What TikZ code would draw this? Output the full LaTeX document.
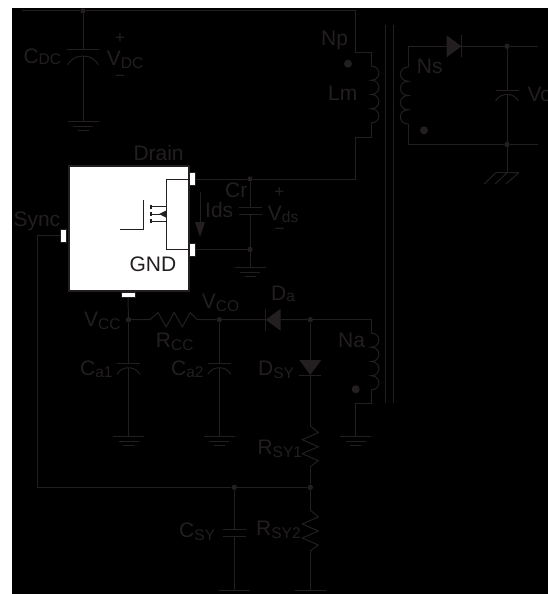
\documentclass[tikz,border=0pt]{standalone}
\usepackage{fontspec}
\setmainfont{Liberation Sans}
\definecolor{ink}{RGB}{35,31,32}
\newcommand{\lowtext}[2][3]{\raisebox{-#1pt}[0pt][0pt]{\fontsize{15.5}{15.5}\selectfont #2}}
\begin{document}
\begin{tikzpicture}[
        x=1pt, y=-1pt,
        wire/.style = {draw=ink, line width=1pt}, % Провода
        lbl/.style = {text=ink, font=\fontsize{21}{21}\selectfont, inner sep=0pt, anchor=base west}, % Подписи
        sign/.style = {text=ink, font=\fontsize{17}{17}\selectfont, inner sep=0pt},
        jct/.style = {circle, fill=ink, inner sep=0pt, minimum size=5.4pt}, % Узлы схемы
        phasedot/.style = {circle, fill=ink, inner sep=0pt, minimum size=8pt},
        pinbox/.style = {rectangle, draw=ink, fill=white, line width=.8pt, inner sep=0pt},
        gndsym/.pic = {
            \coordinate (-top) at (0,0);
            \draw[wire] (-15.5,0) -- (15.5,0) (-10,5.5) -- (10,5.5) (-5.5,9) -- (5.5,9);
        },
        flatcap/.pic = {
            \coordinate (-top) at (0,0);
            \coordinate (-bot) at (0,7);
            \draw[wire] (-11.5,0) -- (11.5,0) (-11.5,7) -- (11.5,7);
        },
        polarcap/.pic = {
            \coordinate (-top) at (0,0);
            \coordinate (-bot) at (0,4.5);
            \draw[wire] (-11.5,0) -- (11.5,0);
            \draw[wire] (-11.5,11) .. controls (-8,5.5) and (-4,4.5) .. (0,4.5) .. controls (4,4.5) and (8,5.5) .. (11.5,11);
        },
        coilsym/.pic = {
            \coordinate (-top) at (0,0);
            \coordinate (-bot) at (0,57);
            \draw[wire] (0,0) .. controls (10.5,0) and (10.5,14.25) .. (0,14.25)
                .. controls (10.5,14.25) and (10.5,28.5) .. (0,28.5)
                .. controls (10.5,28.5) and (10.5,42.75) .. (0,42.75)
                .. controls (10.5,42.75) and (10.5,57) .. (0,57);
        },
        zigres/.pic = {
            \coordinate (-a) at (0,0);
            \coordinate (-b) at (0,41);
            \draw[wire, line join=miter] (0,0) -- (8,7) -- (-8,14) -- (8,21) -- (-8,28) -- (8,35) -- (0,41);
        },
        diodesym/.pic = {
            \coordinate (-a) at (0,0);
            \coordinate (-k) at (0,15);
            \fill[ink] (-11,0) -- (11,0) -- (0,15) -- cycle;
            \draw[wire] (-11,15) -- (11,15);
        },
    ]

    \fill[white] (0,0) rectangle (548,594);
    \fill[black] (12,8) rectangle (548,594);
    \useasboundingbox (0,0) rectangle (548,594);

    % Микросхема
    \node[rectangle, draw=ink, fill=white, line width=2pt, minimum width=120pt, minimum height=125pt, inner sep=0pt] (chip) at (128.5,228) {};
    \node[pinbox, minimum width=6.5pt, minimum height=13pt] (pindrain) at (192.5,179) {};
    \node[pinbox, minimum width=6.5pt, minimum height=13pt] (pinsource) at (192.5,249.5) {};
    \node[pinbox, minimum width=6.5pt, minimum height=13pt] (pinsync) at (63.5,235.7) {};
    \node[pinbox, minimum width=14pt, minimum height=5pt] (pinvcc) at (128,295.3) {};
    \coordinate (fetd) at (166,179);
    \coordinate (fets) at (166,249.5);
    \draw[wire] (pindrain.west) -- (fetd) -- (fets) -- (pinsource.west);
    \draw[wire] (120,229) -- (143.5,229) -- (143.5,200);
    \draw[wire] (151,206.7) -- (166,206.7) (151,221) -- (166,221) (151,214) -- (160,214);
    \draw[wire, line width=1.4pt] (151,204.7) -- (151,208.7) (151,212) -- (151,216) (151,219) -- (151,223);
    \fill[ink] (159,214) -- (166,210.5) -- (166,217.5) -- cycle;

    % Входная часть
    \node[jct] (jdc) at (83,11) {};
    \coordinate (railleft) at (22,11);
    \coordinate (railright) at (355.7,11);
    \draw[wire] (railleft) -- (jdc) -- (railright);
    \pic[scale=1.35] (cdc) at (83,50) {polarcap};
    \pic (gdc) at (83,121) {gndsym};
    \draw[wire] (jdc) -- (cdc-top) (cdc-bot) -- (gdc-top);

    % Первичная обмотка
    \pic (lm) at (371,66) {coilsym};
    \coordinate (npa) at (355.7,53);
    \coordinate (npb) at (371,53);
    \coordinate (nmb) at (371,137);
    \coordinate (nmc) at (355.7,137);
    \coordinate (nmd) at (355.7,179);
    \draw[wire] (railright) -- (npa) -- (npb) -- (lm-top) (lm-bot) -- (nmb) -- (nmc) -- (nmd);
    \node[phasedot] (dotp) at (348,63.7) {};
    \node[jct] (jdrain) at (250,179) {};
    \node[jct] (jsource) at (250,249.5) {};
    \draw[wire] (pindrain.east) -- (jdrain) -- (nmd);
    \draw[wire] (pinsource.east) -- (jsource);
    \pic (cr) at (250,207) {flatcap};
    \pic (gr) at (250,267) {gndsym};
    \draw[wire] (jdrain) -- (cr-top) (cr-bot) -- (jsource) -- (gr-top);
    \coordinate (idsa) at (200,192);
    \coordinate (idsb) at (200,224);
    \draw[wire] (idsa) -- (idsb);
    \fill[ink] (195,222) -- (205,222) -- (200,237) -- cycle;

    % Сердечник
    \coordinate (corea) at (385.7,25);
    \coordinate (coreb) at (385.7,403);
    \coordinate (corec) at (393.3,25);
    \coordinate (cored) at (393.3,403);
    \draw[wire] (corea) -- (coreb) (corec) -- (cored);

    % Вторичная обмотка
    \pic[xscale=-1] (ns) at (408.3,67) {coilsym};
    \coordinate (nsa) at (408.3,46.3);
    \coordinate (nsb) at (408.3,144.5);
    \coordinate (outa) at (537.7,46.3);
    \coordinate (outb) at (537.7,144.5);
    \pic[rotate=90] (ds) at (446.5,46.3) {diodesym};
    \node[jct] (jouta) at (507,46.3) {};
    \node[jct] (joutb) at (507,144.5) {};
    \draw[wire] (ns-top) -- (nsa) -- (ds-a) (ds-k) -- (jouta) -- (outa);
    \draw[wire] (ns-bot) -- (nsb) -- (joutb) -- (outb);
    \node[phasedot] (dots) at (424,130.3) {};
    \pic (co) at (507,90) {polarcap};
    \draw[wire] (jouta) -- (co-top) (co-bot) -- (joutb);
    \coordinate (earth) at (507,172.5);
    \draw[wire] (joutb) -- (earth);
    \draw[wire] (496,172.5) -- (519,172.5) (496,172.5) -- (484,184) (507.5,172.5) -- (495,184) (519,172.5) -- (506,184);

    % Питание
    \node[jct] (jvcc) at (128.5,319.7) {};
    \node[jct] (jvco) at (219.3,319.7) {};
    \node[jct] (jna) at (310.3,319.7) {};
    \pic[rotate=90, yscale=1.15, xscale=.9] (rcc) at (150,319.7) {zigres};
    \pic[rotate=-90] (da) at (280.7,319.7) {diodesym};
    \draw[wire] (pinvcc.south) -- (jvcc) -- (rcc-a) (rcc-b) -- (jvco) -- (da-k) (da-a) -- (jna);
    \pic (ca1) at (128.5,363.3) {polarcap};
    \pic (ga1) at (128.5,436.3) {gndsym};
    \draw[wire] (jvcc) -- (ca1-top) (ca1-bot) -- (ga1-top);
    \pic (ca2) at (219.3,363.3) {polarcap};
    \pic (ga2) at (219.3,436.3) {gndsym};
    \draw[wire] (jvco) -- (ca2-top) (ca2-bot) -- (ga2-top);

    % Дополнительная обмотка
    \pic (na) at (371,333) {coilsym};
    \coordinate (naa) at (371,319.7);
    \coordinate (nab) at (371,403.3);
    \coordinate (nac) at (355.7,403.3);
    \pic (gna) at (355.7,436) {gndsym};
    \draw[wire] (jna) -- (naa) -- (na-top) (na-bot) -- (nab) -- (nac) -- (gna-top);
    \node[phasedot] (dota) at (355.7,389.3) {};

    % Цепь синхронизации
    \pic (dsy) at (310.3,360) {diodesym};
    \pic (rsy1) at (310.3,425.7) {zigres};
    \node[jct] (jrsy) at (310.3,487.3) {};
    \node[jct] (jcsy) at (234.3,487.3) {};
    \pic (rsy2) at (310.3,510) {zigres};
    \pic (csy) at (234.3,529.7) {flatcap};
    \coordinate (syncb) at (37.5,235.7);
    \coordinate (syncc) at (37.5,487.3);
    \coordinate (groundc) at (234.3,590);
    \coordinate (groundr) at (310.3,590);
    \draw[wire] (jna) -- (dsy-a) (dsy-k) -- (rsy1-a) (rsy1-b) -- (jrsy) -- (rsy2-a) (rsy2-b) -- (groundr);
    \draw[wire] (pinsync.west) -- (syncb) -- (syncc) -- (jcsy) -- (jrsy);
    \draw[wire] (jcsy) -- (csy-top) (csy-bot) -- (groundc);
    \draw[wire] (218.7,590) -- (250,590) (295,590) -- (326,590);

    % Подписи
    \node[lbl] (lblcdc) at (23.3,63.5) {C\lowtext[1]{DC}};
    \node[lbl] (lblvdc) at (106.7,66) {V\lowtext{DC}};
    \node[sign] (lblvdcp) at (120,39) {+};
    \node[sign] (lblvdcm) at (120,78) {−};
    \node[lbl] (lbldrain) at (133.3,160) {Drain};
    \node[lbl] (lblsync) at (13.3,226) {Sync};
    \node[lbl] (lblgnd) at (129.3,271.7) {GND};
    \node[lbl] (lblcr) at (225,197.3) {Cr};
    \node[lbl] (lblids) at (205,217.7) {Ids};
    \node[lbl] (lblvds) at (267.7,220) {V\lowtext[2.3]{ds}};
    \node[sign] (lblvdsp) at (279.3,193) {+};
    \node[sign] (lblvdsm) at (279.5,231.5) {−};
    \node[lbl] (lblnp) at (321,45.7) {Np};
    \node[lbl] (lbllm) at (328,100) {Lm};
    \node[lbl] (lblns) at (416.7,73.3) {Ns};
    \node[lbl] (lblvo) at (527.3,101.7) {Vo};
    \node[lbl] (lblna) at (338,347.3) {Na};
    \node[lbl] (lblda) at (271,300.7) {D\lowtext[1]{a}};
    \node[lbl] (lbldsy) at (258,375) {D\lowtext{SY}};
    \node[lbl] (lblvco) at (201.7,308.3) {V\lowtext{CO}};
    \node[lbl] (lblvcc) at (84,326.3) {V\lowtext{CC}};
    \node[lbl] (lblrcc) at (155.7,347.7) {R\lowtext{CC}};
    \node[lbl] (lblca1) at (80,375.3) {C\lowtext[2]{a1}};
    \node[lbl] (lblca2) at (171,375.3) {C\lowtext[2]{a2}};
    \node[lbl] (lblrsy1) at (257.3,454) {R\lowtext{SY1}};
    \node[lbl] (lblrsy2) at (256,535) {R\lowtext{SY2}};
    \node[lbl] (lblcsy) at (179,537.7) {C\lowtext{SY}};
\end{tikzpicture}
\end{document}
